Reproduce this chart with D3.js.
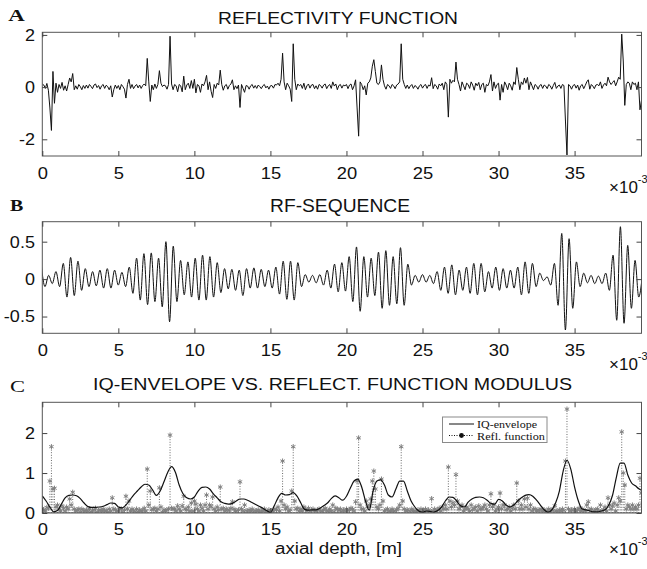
<!DOCTYPE html>
<html>
<head>
<meta charset="utf-8">
<script src="https://cdn.jsdelivr.net/npm/d3@7"></script>
<style>
  html, body { margin: 0; padding: 0; background: #fff; }
  svg { display: block; }
  text { font-family: "Liberation Sans", Arial, sans-serif; fill: #111; }
</style>
</head>
<body>
<svg id="chart" width="647" height="569"></svg>
<script>
// ---------------- data ----------------
// axial depth is sampled in millimetres; the axis shows metres (x 10^-3)
const depthMaxMm = 39.4;
const xTicksMm = [0, 5, 10, 15, 20, 25, 30, 35];

// reflectivity function, one sample every 0.1 mm
const reflStepMm = 0.1;
const reflectivity = [
  0.12, 0.08, -0.05, 0.14, -0.12, -0.8, -1.66, 0.6, -0.62, 0.15,
  -0.2, 0.1, -0.05, 0.18, -0.12, 0.05, -0.15, 0.1, 0.35, 0.2,
  0.52, -0.1, 0.05, -0.08, 0.1, 0.02, -0.1, 0.06, -0.05, 0.08,
  -0.04, 0.1, 0.03, -0.06, 0.08, 0.12, -0.02, 0.06, -0.08, 0.05,
  0.1, -0.05, 0.07, 0.02, -0.1, 0.05, -0.38, -0.1, 0.08, -0.05,
  0.06, -0.1, 0.1, 0.02, -0.08, -0.42, 0.1, 0.3, -0.05, 0.1,
  -0.06, 0.04, 0.1, -0.03, 0.08, -0.05, 0.06, 0.12, 0.05, 1.1,
  0.2, -0.55, 0.08, -0.1, 0.12, -0.05, 0.1, 0.63, 0.15, 0.02,
  0.08, 0.05, -0.08, 0.1, 1.95, 0.12, -0.1, 0.1, 0.05, -0.18,
  0.1, 0.05, -0.18, 0.42, -0.1, 0.08, 0.15, -0.05, 0.25, -0.05,
  0.3, -0.22, 0.1, 0.05, -0.2, 0.12, 0.05, 0.2, 0.45, -0.1,
  0.2, -0.16, -0.4, 0.1, -0.05, 0.15, 0.08, 0.65, 0.1, -0.12,
  0.05, 0.1, -0.08, 0.06, 0.12, 0.28, -0.1, 0.05, -0.06, 0.08,
  -0.78, 0.1, -0.05, -0.2, 0.06, 0.04, -0.08, 0.05, 0.1, -0.04,
  0.06, -0.05, 0.08, 0.02, -0.06, 0.05, 0.1, -0.03, 0.04, -0.08,
  0.05, 0.06, -0.04, 0.1, 0.08, 0.15, 0.05, 0.3, 1.3, 0.2,
  -0.1, 0.15, 0.05, -0.08, -0.55, 1.66, 0.3, -0.1, 0.12, 0.05,
  0.1, -0.05, 0.15, -0.1, 0.05, 0.12, -0.04, 0.08, 0.1, -0.06,
  0.05, -0.08, 0.1, 0.06, -0.04, 0.08, 0.12, -0.06, 0.05, 0.1,
  -0.05, 0.2, 0.04, 0.12, -0.1, 0.06, 0.1, -0.04, 0.08, 0.05,
  0.1, -0.06, 0.08, 0.12, -0.1, 0.05, 0.28, -0.8, -1.88, 0.2,
  0.1, -0.1, 0.05, -0.3, 0.15, 0.2, 0.35, 0.8, 1.05, 0.6,
  0.15, 0.1, 0.2, 0.85, 0.3, 0.05, -0.08, 0.1, 0.05, -0.05,
  0.1, 0.05, -0.06, 0.08, 0.12, 0.2, 1.66, 0.3, 0.1, -0.05,
  0.08, -0.06, 0.04, 0.1, -0.05, 0.06, 0.02, -0.08, 0.05, 0.1,
  -0.04, 0.06, 0.1, -0.05, 0.08, 0.04, 0.36, -0.06, 0.1, 0.05,
  -0.08, 0.12, 0.05, 0.15, -0.1, 0.2, 0.1, -1.15, 0.3, 0.15,
  0.26, 0.2, 0.96, 0.3, 0.1, -0.15, 0.2, 0.05, -0.1, 0.15,
  0.1, -0.05, 0.2, 0.08, -0.12, 0.15, 0.05, 0.18, -0.1, 0.1,
  0.15, -0.2, 0.1, 0.05, 0.2, 0.48, -0.15, 0.2, -0.05, 0.1,
  0.15, -0.5, 0.1, -0.2, 0.2, 0.08, -0.1, 0.15, 0.05, -0.12,
  0.2, 0.1, 0.75, 0.3, -0.1, 0.2, 0.1, 0.35, 0.15, 0.37,
  -0.1, 0.2, 0.05, -0.1, 0.1, 0.05, -0.08, 0.06, 0.1, -0.05,
  0.08, 0.04, -0.06, 0.1, 0.05, -0.08, 0.06, 0.18, -0.05, 0.04,
  0.08, -0.05, 0.1, 0.06, -1.3, -2.6, 0.1, 0.05, -0.08, 0.06,
  0.1, -0.04, 0.08, -0.12, 0.05, 0.1, -0.06, 0.06, 0.2, 0.28,
  -0.08, 0.1, 0.04, -0.06, 0.08, 0.1, 0.05, 0.2, -0.05, 0.08,
  0.15, 0.05, 0.38, 0.2, 0.1, 0.18, 0.25, 0.05, 0.2, 0.38,
  0.3, 2.03, 1.0, -0.7, 0.1, 0.2, 0.15, -0.1, 0.2, 0.1,
  0.15, -0.1, 0.2, -0.87, -0.5
];

// RF sequence: successive peaks and troughs of the echo signal
const rfFirstMm = -0.066;
const rfStepMm = 0.241;
const rfExtrema = [
  0.19, -0.1, 0.05, -0.06, 0.1, -0.1, 0.21, -0.24, 0.29, -0.22,
  0.24, -0.15, 0.14, -0.1, 0.1, -0.09, 0.12, -0.12, 0.14, -0.12,
  0.12, -0.08, 0.09, -0.1, 0.16, -0.19, 0.28, -0.28, 0.34, -0.34,
  0.35, -0.3, 0.28, -0.37, 0.5, -0.57, 0.44, -0.3, 0.25, -0.21,
  0.23, -0.24, 0.28, -0.28, 0.32, -0.28, 0.3, -0.24, 0.22, -0.18,
  0.14, -0.13, 0.13, -0.15, 0.12, -0.22, 0.14, -0.12, 0.15, -0.12,
  0.13, -0.1, 0.12, -0.12, 0.16, -0.2, 0.24, -0.27, 0.24, -0.28,
  0.22, -0.1, 0.06, -0.04, 0.05, -0.05, 0.06, -0.08, 0.12, -0.12,
  0.2, -0.17, 0.22, -0.16, 0.3, -0.3, 0.43, -0.43, 0.3, -0.24,
  0.28, -0.22, 0.36, -0.39, 0.38, -0.35, 0.3, -0.33, 0.42, -0.35,
  0.2, -0.08, 0.05, -0.04, 0.06, -0.04, 0.05, -0.06, 0.1, -0.15,
  0.16, -0.19, 0.19, -0.21, 0.12, -0.15, 0.16, -0.19, 0.21, -0.21,
  0.21, -0.17, 0.1, -0.12, 0.16, -0.15, 0.14, -0.12, 0.12, -0.12,
  0.16, -0.21, 0.23, -0.19, 0.21, -0.1, 0.08, -0.02, 0.03, -0.08,
  0.21, -0.35, 0.61, -0.68, 0.54, -0.39, 0.23, -0.1, 0.08, -0.05,
  0.05, -0.06, 0.04, -0.06, 0.08, -0.15, 0.32, -0.55, 0.7, -0.59,
  0.45, -0.39, 0.25, -0.24, 0.05
];

// IQ envelope, one value every 0.25 mm
const envStepMm = 0.25;
const iqEnvelope = [
  0.43, 0.3, 0.15, 0.03, 0.06, 0.22, 0.38, 0.44, 0.45, 0.43,
  0.36, 0.25, 0.16, 0.14, 0.14, 0.15, 0.17, 0.21, 0.25, 0.24,
  0.15, 0.13, 0.2, 0.32, 0.45, 0.55, 0.65, 0.72, 0.7, 0.58,
  0.44, 0.55, 0.78, 1.02, 1.16, 1.02, 0.7, 0.48, 0.38, 0.35,
  0.4, 0.55, 0.64, 0.65, 0.6, 0.48, 0.38, 0.28, 0.24, 0.22,
  0.24, 0.3, 0.35, 0.35, 0.32, 0.27, 0.22, 0.17, 0.12, 0.06,
  0.01, 0.18, 0.38, 0.49, 0.45, 0.46, 0.51, 0.42, 0.25, 0.09,
  0.07, 0.08, 0.08, 0.12, 0.18, 0.25, 0.36, 0.43, 0.38, 0.32,
  0.42, 0.62, 0.8, 0.85, 0.65, 0.3, 0.07, 0.55, 0.8, 0.83,
  0.7, 0.45, 0.4, 0.6, 0.8, 0.8, 0.55, 0.3, 0.15, 0.05,
  0.02, 0.05, 0.04, 0.02, 0.06, 0.15, 0.3, 0.4, 0.39, 0.3,
  0.18, 0.15, 0.27, 0.35, 0.39, 0.4, 0.38, 0.32, 0.24, 0.22,
  0.34, 0.3, 0.2, 0.15, 0.2, 0.3, 0.38, 0.44, 0.46, 0.42,
  0.32, 0.2, 0.08, 0.02, 0.08, 0.25, 0.55, 1.05, 1.32, 1.1,
  0.65, 0.3, 0.1, 0.08, 0.05, 0.03, 0.03, 0.05, 0.08, 0.2,
  0.45, 0.9, 1.25, 1.25, 0.95, 0.75, 0.68, 0.6, 0.55
];

const yTicksA = [-2, 0, 2];
const yTicksB = [-0.5, 0, 0.5];
const yTicksC = [0, 1, 2];

// ---------------- layout ----------------
const svg = d3.select("#chart");
const plotLeft = 42.3, plotRight = 641.5;
const x = d3.scaleLinear().domain([0, depthMaxMm * 1e-3]).range([plotLeft, plotRight]);
const mm = v => v * 1e-3;

const panels = [
  { id: "A", top: 32.3, bottom: 156, yDomain: [-2.64, 2.10], yTicks: yTicksA,
    title: "REFLECTIVITY FUNCTION", titleX: 218, titleW: 240, titleY: 24, titleSize: 16,
    letterX: 8.3, letterY: 20.7, letterW: 16.5, letterBold: true, expY: 193, tickPad: 10.5 },
  { id: "B", top: 221.7, bottom: 333.3, yDomain: [-0.724, 0.767], yTicks: yTicksB,
    title: "RF-SEQUENCE", titleX: 270, titleW: 140, titleY: 211.7, titleSize: 19,
    letterX: 10, letterY: 210.7, letterW: 13.3, letterBold: true, expY: 370, tickPad: 11 },
  { id: "C", top: 402.3, bottom: 513, yDomain: [0, 2.77], yTicks: yTicksC,
    title: "IQ-ENVELOPE VS. REFLECT. FUNCTION MODULUS", titleX: 93, titleW: 479, titleY: 390, titleSize: 16.3,
    letterX: 10, letterY: 391.7, letterW: 15, letterBold: false, expY: 555, tickPad: 9.5 }
];

const xTickVals = xTicksMm.map(mm);

panels.forEach(p => {
  p.y = d3.scaleLinear().domain(p.yDomain).range([p.bottom, p.top]);
  svg.append("clipPath").attr("id", "clip" + p.id)
    .append("rect")
    .attr("x", plotLeft).attr("y", p.top)
    .attr("width", plotRight - plotLeft).attr("height", p.bottom - p.top);
  p.body = svg.append("g").attr("clip-path", `url(#clip${p.id})`);
});

// ---------------- panel A: reflectivity ----------------
const pA = panels[0];
pA.body.append("path")
  .datum(reflectivity)
  .attr("fill", "none")
  .attr("stroke", "#111")
  .attr("stroke-width", 1)
  .attr("d", d3.line()
    .x((d, i) => x(mm(i * reflStepMm)))
    .y(d => pA.y(d)));

// ---------------- panel B: RF sequence ----------------
const pB = panels[1];
pB.body.append("path")
  .datum(rfExtrema)
  .attr("fill", "none")
  .attr("stroke", "#111")
  .attr("stroke-width", 1)
  .attr("d", d3.line()
    .curve(d3.curveMonotoneX)
    .x((d, i) => x(mm(rfFirstMm + i * rfStepMm)))
    .y(d => pB.y(d)));

// ---------------- panel C: envelope vs reflectivity modulus ----------------
const pC = panels[2];
const modulus = reflectivity.map(v => Math.abs(v));
pC.body.append("g")
  .selectAll("line")
  .data(modulus)
  .join("line")
  .attr("x1", (d, i) => x(mm(i * reflStepMm)))
  .attr("x2", (d, i) => x(mm(i * reflStepMm)))
  .attr("y1", pC.y(0))
  .attr("y2", d => pC.y(d))
  .attr("stroke", "#6a6a6a")
  .attr("stroke-width", 1)
  .attr("stroke-dasharray", "1,1.6");

const star = d3.symbol().type(d3.symbolAsterisk).size(18);
pC.body.append("g")
  .selectAll("path")
  .data(modulus)
  .join("path")
  .attr("transform", (d, i) => `translate(${x(mm(i * reflStepMm))},${pC.y(d)})`)
  .attr("d", star)
  .attr("fill", "none")
  .attr("stroke", "#808080")
  .attr("stroke-width", 1);

pC.body.append("path")
  .datum(iqEnvelope)
  .attr("fill", "none")
  .attr("stroke", "#111")
  .attr("stroke-width", 1.2)
  .attr("d", d3.line()
    .curve(d3.curveMonotoneX)
    .x((d, i) => x(mm(i * envStepMm)))
    .y(d => pC.y(d)));

// ---------------- frames, axes, titles ----------------
const tickColor = "#444";
panels.forEach(p => {
  svg.append("rect")
    .attr("x", plotLeft).attr("y", p.top)
    .attr("width", plotRight - plotLeft).attr("height", p.bottom - p.top)
    .attr("fill", "none").attr("stroke", "#555").attr("stroke-width", 1);

  const fmtX = d => String(Math.round(d * 1e3));
  const gb = svg.append("g").attr("transform", `translate(0,${p.bottom})`)
    .call(d3.axisBottom(x).tickValues(xTickVals).tickSize(-5).tickPadding(p.tickPad).tickFormat(fmtX));
  const gt = svg.append("g").attr("transform", `translate(0,${p.top})`)
    .call(d3.axisTop(x).tickValues(xTickVals).tickSize(-5).tickFormat(""));
  const gl = svg.append("g").attr("transform", `translate(${plotLeft},0)`)
    .call(d3.axisLeft(p.y).tickValues(p.yTicks).tickSize(-5).tickPadding(7).tickFormat(d => String(d)));
  const gr = svg.append("g").attr("transform", `translate(${plotRight},0)`)
    .call(d3.axisRight(p.y).tickValues(p.yTicks).tickSize(-5).tickFormat(""));

  [gb, gt, gl, gr].forEach(g => {
    g.select(".domain").remove();
    g.selectAll(".tick line").attr("stroke", tickColor);
    g.selectAll(".tick text")
      .attr("fill", "#111")
      .style("font-family", '"Liberation Sans", Arial, sans-serif')
      .style("font-size", "17px");
  });
  gb.selectAll(".tick text").attr("transform", "scale(1.08,1)");
  gl.selectAll(".tick text").attr("transform", "scale(1.06,1)");

  // panel title
  svg.append("text")
    .attr("x", p.titleX).attr("y", p.titleY)
    .attr("textLength", p.titleW).attr("lengthAdjust", "spacingAndGlyphs")
    .style("font-size", p.titleSize + "px")
    .text(p.title);

  // panel letter
  svg.append("text")
    .attr("x", p.letterX).attr("y", p.letterY)
    .attr("textLength", p.letterW).attr("lengthAdjust", "spacingAndGlyphs")
    .style("font-family", '"Liberation Serif", "Times New Roman", serif')
    .style("font-weight", p.letterBold ? "bold" : "normal")
    .style("font-size", "17px")
    .text(p.id);

  // axis exponent
  const ex = svg.append("text")
    .attr("x", 609).attr("y", p.expY)
    .style("font-size", "17px");
  ex.append("tspan").text("\u00d710");
  ex.append("tspan").attr("dy", -10).style("font-size", "11px").text("-3");
});

// x-axis label
svg.append("text")
  .attr("x", 275).attr("y", 554)
  .attr("textLength", 127).attr("lengthAdjust", "spacingAndGlyphs")
  .style("font-size", "16px")
  .text("axial depth, [m]");

// ---------------- legend ----------------
const lg = svg.append("g");
lg.append("rect")
  .attr("x", 442.5).attr("y", 417).attr("width", 104.5).attr("height", 25.5)
  .attr("fill", "#fff").attr("stroke", "#8a8a8a").attr("stroke-width", 1);
lg.append("line")
  .attr("x1", 449).attr("x2", 474).attr("y1", 424).attr("y2", 424)
  .attr("stroke", "#111").attr("stroke-width", 1);
lg.append("line")
  .attr("x1", 449).attr("x2", 474).attr("y1", 435.5).attr("y2", 435.5)
  .attr("stroke", "#111").attr("stroke-width", 1).attr("stroke-dasharray", "1,1.5");
lg.append("circle")
  .attr("cx", 461.5).attr("cy", 435.5).attr("r", 2.4).attr("fill", "#111");
lg.append("text")
  .attr("x", 477).attr("y", 428)
  .attr("textLength", 60).attr("lengthAdjust", "spacingAndGlyphs")
  .style("font-family", '"Liberation Serif", "Times New Roman", serif')
  .style("font-size", "11px")
  .text("IQ-envelope");
lg.append("text")
  .attr("x", 477).attr("y", 439.5)
  .attr("textLength", 68).attr("lengthAdjust", "spacingAndGlyphs")
  .style("font-family", '"Liberation Serif", "Times New Roman", serif')
  .style("font-size", "11px")
  .text("Refl. function");
</script>
</body>
</html>
